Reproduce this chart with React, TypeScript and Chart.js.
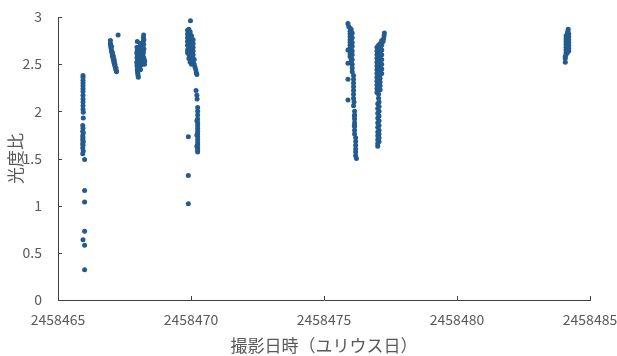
import React, { useEffect, useRef } from "react";
import { Chart, registerables } from "chart.js";

Chart.register(...registerables);

const X_TICKS = [2458465, 2458470, 2458475, 2458480, 2458485];
const Y_TICKS = [0, 0.5, 1, 1.5, 2, 2.5, 3];
const X_TITLE = "撮影日時（ユリウス日）";
const Y_TITLE = "光度比";

type P = [number, number];

const night1: P[] = [
  [2458465.94, 2.38], [2458465.94, 2.36], [2458465.94, 2.33], [2458465.94, 2.30], [2458465.94, 2.27],
  [2458465.94, 2.24], [2458465.94, 2.21], [2458465.94, 2.17], [2458465.94, 2.13], [2458465.94, 2.10],
  [2458465.94, 2.06], [2458465.94, 2.02], [2458465.95, 1.99], [2458465.95, 1.93], [2458465.93, 1.85],
  [2458465.94, 1.82], [2458465.93, 1.79], [2458465.95, 1.77], [2458465.93, 1.74], [2458465.94, 1.72],
  [2458465.93, 1.70], [2458465.95, 1.68], [2458465.93, 1.66], [2458465.94, 1.64], [2458465.93, 1.61],
  [2458465.95, 1.58], [2458465.93, 1.55], [2458466.0, 1.49], [2458466.0, 1.16], [2458466.0, 1.04],
  [2458466.0, 0.73], [2458465.94, 0.64], [2458466.0, 0.58], [2458466.0, 0.32],
];

const night2: P[] = [
  [2458466.97, 2.75], [2458466.97, 2.72], [2458466.98, 2.70], [2458466.99, 2.68], [2458467.0, 2.66],
  [2458467.01, 2.64], [2458467.03, 2.62], [2458467.04, 2.60], [2458467.05, 2.58], [2458467.07, 2.57],
  [2458467.08, 2.55], [2458467.1, 2.53], [2458467.11, 2.51], [2458467.13, 2.49], [2458467.15, 2.47],
  [2458467.17, 2.45], [2458467.19, 2.43], [2458467.14, 2.5], [2458467.11, 2.55], [2458467.06, 2.6],
  [2458467.12, 2.52], [2458467.18, 2.46], [2458467.01, 2.69], [2458467.04, 2.63], [2458467.26, 2.81],
  [2458467.2, 2.42], [2458467.08, 2.58],
];

const night3: P[] = [
  [2458467.98, 2.74], [2458467.97, 2.68], [2458467.98, 2.65], [2458467.96, 2.62], [2458467.98, 2.6],
  [2458467.97, 2.57], [2458467.99, 2.55], [2458467.96, 2.52], [2458467.98, 2.5], [2458467.97, 2.48],
  [2458467.99, 2.46], [2458467.98, 2.44], [2458467.99, 2.42], [2458468.0, 2.4], [2458468.01, 2.38],
  [2458468.02, 2.36], [2458468.03, 2.45], [2458468.03, 2.53], [2458468.02, 2.58],
  [2458468.1, 2.72], [2458468.12, 2.7], [2458468.1, 2.66], [2458468.13, 2.63], [2458468.11, 2.61],
  [2458468.14, 2.58], [2458468.1, 2.56], [2458468.12, 2.54], [2458468.09, 2.51], [2458468.11, 2.49],
  [2458468.08, 2.47], [2458468.1, 2.44], [2458468.15, 2.5], [2458468.16, 2.6],
  [2458468.22, 2.81], [2458468.21, 2.78], [2458468.23, 2.76], [2458468.2, 2.74], [2458468.22, 2.71],
  [2458468.2, 2.68], [2458468.23, 2.66], [2458468.19, 2.64], [2458468.21, 2.62], [2458468.19, 2.59],
  [2458468.22, 2.57], [2458468.24, 2.55], [2458468.26, 2.53], [2458468.25, 2.5],
];

const night4: P[] = [
  [2458469.98, 2.96],
  [2458469.87, 2.86], [2458469.87, 2.82], [2458469.87, 2.78], [2458469.87, 2.74], [2458469.87, 2.7],
  [2458469.87, 2.65], [2458469.87, 2.62],
  [2458469.92, 2.87], [2458469.92, 2.8], [2458469.92, 2.76], [2458469.92, 2.72], [2458469.92, 2.68],
  [2458469.92, 2.64], [2458469.92, 2.6], [2458469.92, 2.56],
  [2458469.97, 2.84], [2458469.97, 2.79], [2458469.97, 2.75], [2458469.97, 2.71], [2458469.97, 2.67],
  [2458469.97, 2.63], [2458469.97, 2.59], [2458469.97, 2.55], [2458469.97, 2.52],
  [2458470.02, 2.8], [2458470.02, 2.74], [2458470.02, 2.7], [2458470.02, 2.66], [2458470.02, 2.62],
  [2458470.02, 2.58], [2458470.02, 2.54], [2458470.02, 2.5],
  [2458470.08, 2.76], [2458470.08, 2.72], [2458470.08, 2.68], [2458470.08, 2.64], [2458470.08, 2.6],
  [2458470.08, 2.56], [2458470.08, 2.52],
  [2458470.12, 2.55], [2458470.12, 2.5], [2458470.15, 2.47], [2458470.18, 2.44],
  [2458470.2, 2.41], [2458470.22, 2.39],
  [2458470.19, 2.22], [2458470.22, 2.17], [2458470.23, 2.13],
  [2458470.25, 2.04], [2458470.25, 2.0], [2458470.25, 1.96], [2458470.25, 1.92], [2458470.25, 1.88],
  [2458470.25, 1.85], [2458470.25, 1.82], [2458470.25, 1.79], [2458470.25, 1.76], [2458470.25, 1.73],
  [2458470.25, 1.7], [2458470.25, 1.67], [2458470.25, 1.64], [2458470.25, 1.61], [2458470.25, 1.59],
  [2458470.25, 1.57], [2458470.22, 1.9], [2458470.22, 1.75], [2458470.22, 1.63],
  [2458469.9, 1.73], [2458469.9, 1.32], [2458469.9, 1.02],
];

const night5: P[] = [
  [2458475.9, 2.93], [2458475.93, 2.9],
  [2458475.98, 2.88], [2458475.98, 2.85], [2458475.98, 2.82], [2458475.98, 2.79], [2458475.98, 2.76],
  [2458475.98, 2.73], [2458475.98, 2.7], [2458475.98, 2.67], [2458475.98, 2.64], [2458475.98, 2.61],
  [2458475.98, 2.58],
  [2458476.02, 2.87], [2458476.02, 2.84], [2458476.02, 2.8], [2458476.02, 2.77], [2458476.02, 2.74],
  [2458476.02, 2.71], [2458476.02, 2.68], [2458476.02, 2.65], [2458476.02, 2.62], [2458476.02, 2.59],
  [2458476.02, 2.56], [2458476.02, 2.53],
  [2458476.06, 2.83], [2458476.06, 2.78], [2458476.06, 2.73], [2458476.06, 2.69], [2458476.06, 2.64],
  [2458476.06, 2.6], [2458476.06, 2.55], [2458476.06, 2.5], [2458476.06, 2.46], [2458476.06, 2.42],
  [2458475.9, 2.65], [2458475.9, 2.51], [2458475.9, 2.34], [2458475.9, 2.12],
  [2458476.11, 2.38], [2458476.11, 2.34], [2458476.11, 2.3], [2458476.11, 2.26], [2458476.11, 2.22],
  [2458476.11, 2.18], [2458476.11, 2.14], [2458476.11, 2.06],
  [2458476.15, 2.0], [2458476.15, 1.96], [2458476.15, 1.92], [2458476.15, 1.88], [2458476.15, 1.84],
  [2458476.15, 1.8], [2458476.15, 1.76],
  [2458476.19, 1.72], [2458476.19, 1.68], [2458476.19, 1.64], [2458476.19, 1.6], [2458476.19, 1.57],
  [2458476.19, 1.53], [2458476.22, 1.5],
  [2458476.13, 2.1], [2458476.14, 1.95], [2458476.14, 1.85],
];

const night6: P[] = [
  [2458477.27, 2.83], [2458477.26, 2.8], [2458477.24, 2.77], [2458477.22, 2.74],
  [2458476.99, 2.68], [2458476.99, 2.64], [2458476.99, 2.6], [2458476.99, 2.56], [2458476.99, 2.52],
  [2458476.99, 2.48], [2458476.99, 2.44], [2458476.99, 2.4], [2458476.99, 2.36], [2458476.99, 2.32],
  [2458476.99, 2.28], [2458476.99, 2.24], [2458476.99, 2.2],
  [2458477.05, 2.7], [2458477.05, 2.66], [2458477.05, 2.62], [2458477.05, 2.58], [2458477.05, 2.54],
  [2458477.05, 2.5], [2458477.05, 2.46], [2458477.05, 2.42], [2458477.05, 2.38], [2458477.05, 2.34],
  [2458477.05, 2.3], [2458477.05, 2.26], [2458477.05, 2.22], [2458477.05, 2.18], [2458477.05, 2.14],
  [2458477.11, 2.72], [2458477.11, 2.68], [2458477.11, 2.63], [2458477.11, 2.59], [2458477.11, 2.55],
  [2458477.11, 2.51], [2458477.11, 2.47], [2458477.11, 2.43], [2458477.11, 2.39], [2458477.11, 2.35],
  [2458477.11, 2.31], [2458477.11, 2.27], [2458477.11, 2.23],
  [2458477.17, 2.75], [2458477.17, 2.7], [2458477.17, 2.65], [2458477.17, 2.6], [2458477.17, 2.55],
  [2458477.17, 2.5], [2458477.17, 2.45], [2458477.17, 2.4],
  [2458477.02, 2.08], [2458477.02, 2.03], [2458477.02, 1.98], [2458477.02, 1.93], [2458477.02, 1.88],
  [2458477.02, 1.83], [2458477.02, 1.78], [2458477.02, 1.74], [2458477.02, 1.7], [2458477.02, 1.66],
  [2458477.02, 1.63],
  [2458477.07, 2.1], [2458477.07, 2.05], [2458477.07, 2.0], [2458477.07, 1.95], [2458477.07, 1.9],
  [2458477.07, 1.85], [2458477.07, 1.8], [2458477.07, 1.76], [2458477.07, 1.72], [2458477.07, 1.68],
];

const night7: P[] = [
  [2458484.18, 2.87], [2458484.17, 2.85],
  [2458484.1, 2.8], [2458484.1, 2.77], [2458484.1, 2.74], [2458484.1, 2.71], [2458484.1, 2.68],
  [2458484.1, 2.65], [2458484.1, 2.62], [2458484.1, 2.6],
  [2458484.15, 2.83], [2458484.15, 2.8], [2458484.15, 2.77], [2458484.15, 2.74], [2458484.15, 2.71],
  [2458484.15, 2.68], [2458484.15, 2.65], [2458484.15, 2.62],
  [2458484.2, 2.82], [2458484.2, 2.79], [2458484.2, 2.76], [2458484.2, 2.73], [2458484.2, 2.7],
  [2458484.2, 2.67], [2458484.2, 2.64],
  [2458484.07, 2.56], [2458484.07, 2.52], [2458484.07, 2.58],
];

const NIGHTS = [night1, night2, night3, night4, night5, night6, night7];

const FONT = "'Noto Sans CJK JP', 'Noto Sans', sans-serif";
const TEXT = "#595959";
const AXIS = "#404040";

const innerTicks = {
  id: "innerTicks",
  afterDraw(chart: any) {
    const { ctx, chartArea, scales } = chart;
    ctx.save();
    ctx.strokeStyle = AXIS;
    ctx.lineWidth = 1;
    ctx.beginPath();
    for (const v of X_TICKS) {
      const px = Math.round(scales.x.getPixelForValue(v)) + 0.5;
      ctx.moveTo(px, chartArea.bottom);
      ctx.lineTo(px, chartArea.bottom - 4);
    }
    for (const v of Y_TICKS) {
      const py = Math.round(scales.y.getPixelForValue(v)) + 0.5;
      ctx.moveTo(chartArea.left, py);
      ctx.lineTo(chartArea.left + 4, py);
    }
    ctx.stroke();
    ctx.restore();
  },
};

export default function App() {
  const ref = useRef<HTMLCanvasElement>(null);
  useEffect(() => {
    document.body.style.margin = "0";
    const data = NIGHTS.flat().map(([x, y]) => ({ x, y }));
    const chart = new Chart(ref.current!, {
      type: "scatter",
      data: {
        datasets: [
          {
            data,
            backgroundColor: "#245b8e",
            borderWidth: 0,
            pointRadius: 2.5,
          },
        ],
      },
      options: {
        animation: false,
        responsive: false,
        layout: { padding: { top: 17, right: 27, left: 0, bottom: 0 } },
        plugins: { legend: { display: false }, tooltip: { enabled: false } },
        scales: {
          x: {
            type: "linear",
            min: 2458465,
            max: 2458485,
            afterBuildTicks: (s: any) => {
              s.ticks = X_TICKS.map((v) => ({ value: v }));
            },
            afterFit: (s: any) => {
              s.height = 56;
              s.paddingLeft = 0;
              s.paddingRight = 0;
            },
            grid: { drawOnChartArea: false, drawTicks: false },
            border: { color: AXIS, width: 1 },
            ticks: {
              padding: 11,
              color: TEXT,
              font: { family: FONT, size: 14 },
              maxRotation: 0,
              callback: (v: any) => String(v),
            },
            title: {
              display: true,
              text: X_TITLE,
              color: TEXT,
              font: { family: FONT, size: 17 },
              padding: { top: 2, bottom: 0 },
            },
          },
          y: {
            type: "linear",
            min: 0,
            max: 3,
            afterBuildTicks: (s: any) => {
              s.ticks = Y_TICKS.map((v) => ({ value: v }));
            },
            afterFit: (s: any) => {
              s.width = 58;
              s.paddingTop = 0;
              s.paddingBottom = 0;
            },
            grid: { drawOnChartArea: false, drawTicks: false },
            border: { color: AXIS, width: 1 },
            ticks: {
              padding: 16,
              color: TEXT,
              font: { family: FONT, size: 14 },
              callback: (v: any) => String(v),
            },
            title: {
              display: true,
              text: Y_TITLE,
              color: TEXT,
              font: { family: FONT, size: 17 },
              padding: { top: 5, bottom: 0 },
            },
          },
        },
      },
      plugins: [innerTicks],
    });
    return () => chart.destroy();
  }, []);
  return (
    <div style={{ width: 617, height: 356 }}>
      <canvas ref={ref} width={617} height={356} />
    </div>
  );
}
